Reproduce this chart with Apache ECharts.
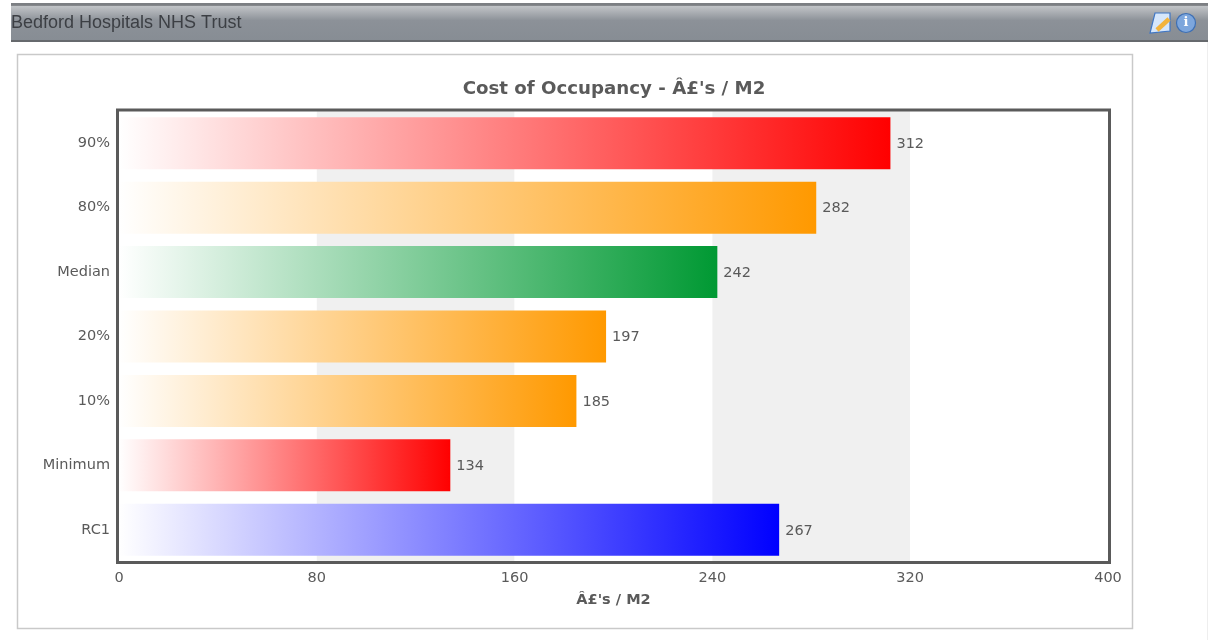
<!DOCTYPE html>
<html>
<head>
<meta charset="utf-8">
<title>Cost of Occupancy</title>
<style>
  html, body { margin: 0; padding: 0; background: #ffffff; }
  #chart { width: 1208px; height: 640px; }
</style>
<script src="https://cdn.jsdelivr.net/npm/echarts@6/dist/echarts.min.js"></script>
</head>
<body>
<div id="chart"></div>
<script>
// Benchmark percentiles for the trust
const categories = ['90%', '80%', 'Median', '20%', '10%', 'Minimum', 'RC1'];
const costValues = [312, 282, 242, 197, 185, 134, 267];
const barColours = ['#ff0000', '#ff9900', '#009933', '#ff9900', '#ff9900', '#ff0000', '#0000ff'];

const pageTitle = 'Bedford Hospitals NHS Trust';
const chartTitle = "Cost of Occupancy - Â£'s / M2";
const axisTitle = "Â£'s / M2";
const axisMax = 400;
const axisStep = 80;

const chartFont = '"DejaVu Sans", Verdana, sans-serif';
const textColour = '#5a5a5a';

function fade(colour) {
  return new echarts.graphic.LinearGradient(0, 0, 1, 0, [
    { offset: 0, color: '#ffffff' },
    { offset: 1, color: colour }
  ]);
}

const chart = echarts.init(document.getElementById('chart'), null, { renderer: 'canvas' });

chart.setOption({
  animation: false,
  backgroundColor: '#ffffff',
  title: {
    text: chartTitle,
    left: 609,
    top: 75,
    textAlign: 'center',
    textStyle: { fontFamily: chartFont, fontSize: 18.2, fontWeight: 'bold', color: textColour }
  },
  grid: { left: 119, width: 989, top: 111, height: 451, show: false },
  xAxis: {
    type: 'value',
    min: 0,
    max: axisMax,
    interval: axisStep,
    name: axisTitle,
    nameLocation: 'center',
    nameGap: 31,
    nameTextStyle: { fontFamily: chartFont, fontSize: 14.5, fontWeight: 'bold', color: textColour },
    axisLine: { show: false },
    axisTick: { show: false },
    splitLine: { show: false },
    splitArea: { show: true, areaStyle: { color: ['#ffffff', '#f0f0f0'] } },
    axisLabel: { margin: 9, fontFamily: chartFont, fontSize: 14.5, color: textColour }
  },
  yAxis: {
    type: 'category',
    inverse: true,
    data: categories,
    axisLine: { show: false },
    axisTick: { show: false },
    splitLine: { show: false },
    axisLabel: { margin: 9, padding: [2, 0, 0, 0], fontFamily: chartFont, fontSize: 14.5, color: textColour }
  },
  series: [{
    type: 'bar',
    barWidth: 52,
    data: costValues.map((value, i) => ({
      value,
      itemStyle: { color: fade(barColours[i]) }
    })),
    label: {
      show: true,
      position: 'right',
      distance: 6,
      offset: [0, 1],
      fontFamily: chartFont,
      fontSize: 14.5,
      color: textColour
    }
  }],
  graphic: { elements: [
    // Panel frame and plot border
    { type: 'rect', z: -1, silent: true, shape: { x: 17.5, y: 54.5, width: 1115, height: 574 },
      style: { fill: 'none', stroke: '#c9c9c9', lineWidth: 1.5 } },
    { type: 'rect', z: 50, silent: true, shape: { x: 117.5, y: 110, width: 992, height: 452.5 },
      style: { fill: 'none', stroke: '#5a5a5a', lineWidth: 3 } },
    // Thin rule along the right of the page
    { type: 'line', z: -1, silent: true, shape: { x1: 1207.5, y1: 42, x2: 1207.5, y2: 640 },
      style: { stroke: '#eeeeee', lineWidth: 1 } },
    // Page header strip
    { type: 'rect', z: 1, silent: true, shape: { x: 11, y: 3, width: 1197, height: 39 },
      style: { fill: new echarts.graphic.LinearGradient(0, 0, 0, 1, [
        { offset: 0, color: '#7c7f83' },
        { offset: 0.06, color: '#7c7f83' },
        { offset: 0.09, color: '#c0c3c6' },
        { offset: 0.45, color: '#8c9198' },
        { offset: 0.95, color: '#878d94' },
        { offset: 0.96, color: '#66696d' },
        { offset: 1, color: '#66696d' }
      ]) } },
    { type: 'text', z: 2, silent: true, style: { x: 11, y: 23, text: pageTitle, fill: '#3c3f44',
      font: '18px "Liberation Sans", Arial, sans-serif', verticalAlign: 'middle' } },
    // Edit note icon
    { type: 'polygon', z: 2, silent: true, shape: { points: [[1155, 13], [1170, 13], [1170, 31], [1150, 33]] },
      style: { fill: '#d5e6fb', stroke: '#3f76c4', lineWidth: 1.2 } },
    { type: 'line', z: 3, silent: true, shape: { x1: 1157, y1: 30, x2: 1169, y2: 19 },
      style: { stroke: '#f2b33d', lineWidth: 4.5 } },
    // Information icon
    { type: 'circle', z: 2, silent: true, shape: { cx: 1186, cy: 23, r: 9.5 },
      style: { fill: '#7da6dc', stroke: '#3d6fb4', lineWidth: 1.2 } },
    { type: 'text', z: 3, silent: true, style: { x: 1186, y: 23, text: 'i', fill: '#ffffff',
      font: 'bold 13px "DejaVu Serif", serif', align: 'center', verticalAlign: 'middle' } }
  ] }
});
</script>
</body>
</html>
